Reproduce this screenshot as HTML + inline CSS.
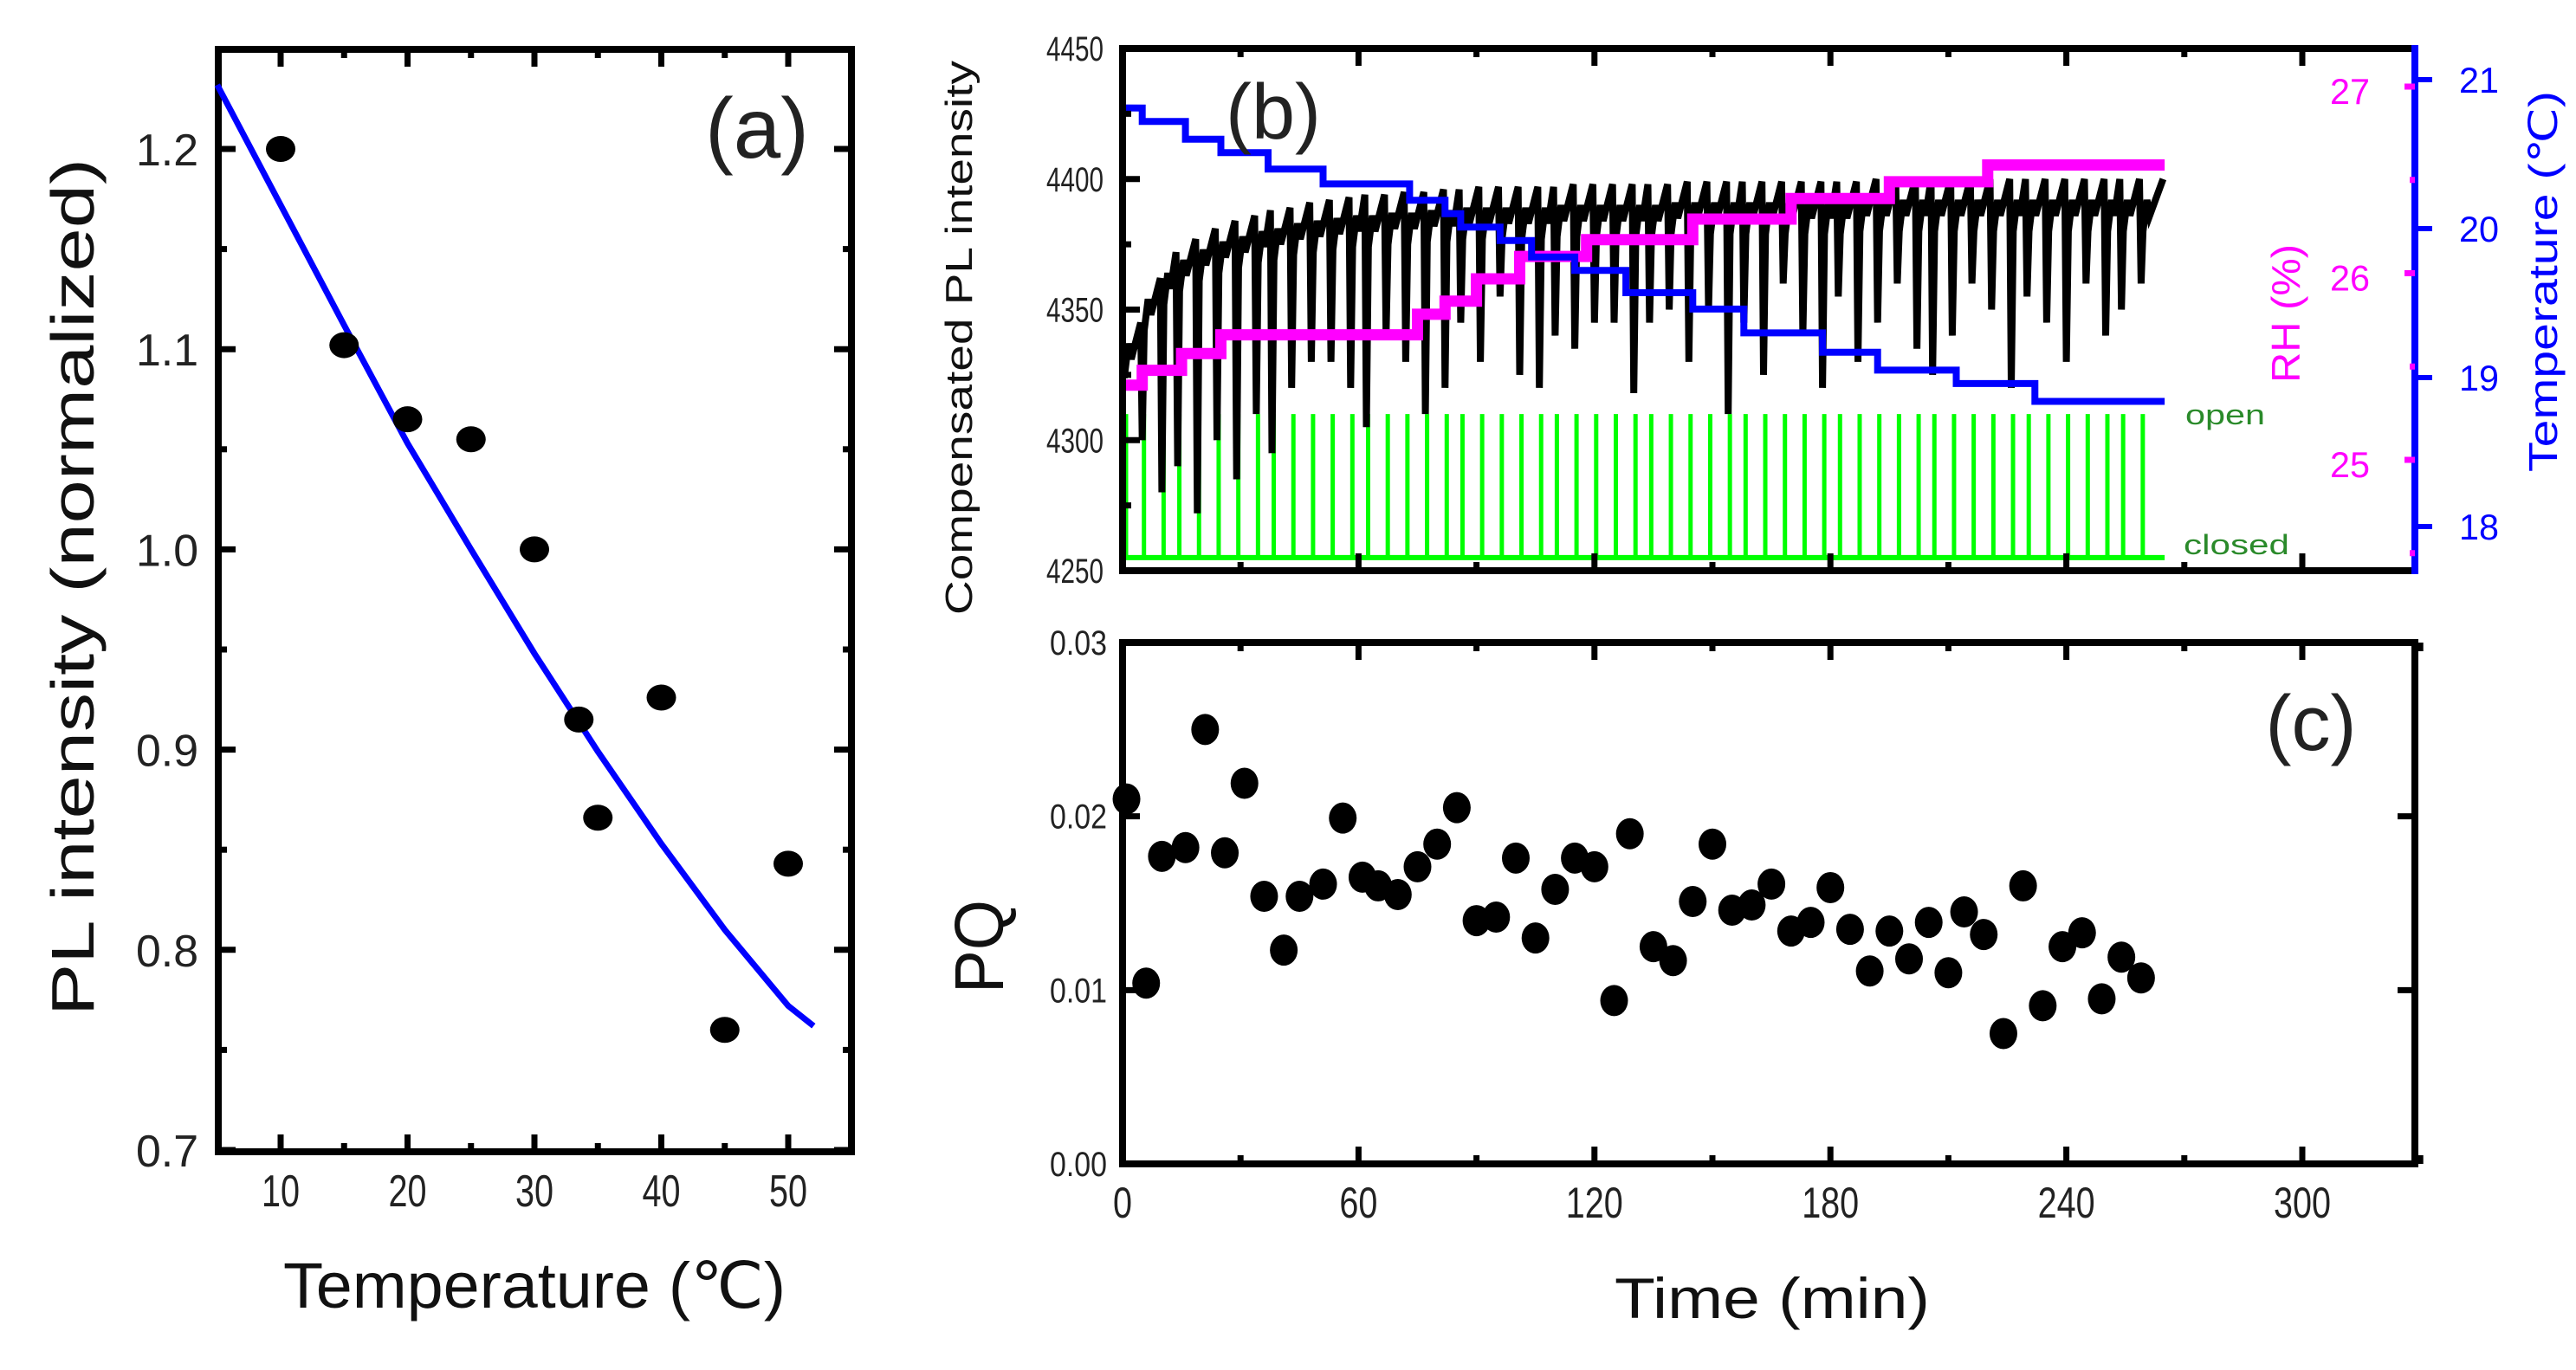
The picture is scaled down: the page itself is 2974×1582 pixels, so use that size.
<!DOCTYPE html>
<html><head><meta charset="utf-8"><style>
html,body{margin:0;padding:0;background:#fff}
svg{display:block}
text{font-family:"Liberation Sans",sans-serif}
</style></head><body>
<svg id="fig" width="2974" height="1582" viewBox="0 0 2974 1582" xmlns="http://www.w3.org/2000/svg">
<g id="pa"></g>
<g id="pb"></g>
<g id="pc"></g>
</svg>
<script>
// ---- Panel (a) data ----
const aTemps = [10,15,20,25,30,33.5,35,40,45,50];
const aPL = [1.2,1.102,1.065,1.055,1.0,0.915,0.866,0.926,0.76,0.843];
const aFitT = [5,10,15,20,25,30,35,40,45,50,52];
const aFitPL = [1.232,1.172,1.112,1.053,1.0,0.948,0.899,0.853,0.810,0.772,0.762];
const aXTicks = [10,20,30,40,50];
const aYTicks = [0.7,0.8,0.9,1.0,1.1,1.2];
// ---- Panel (b) data ----
const bCycleT = [0,5,10,14,19,24,29,34,38,43,48,53,58,62,67,72,77,82,86,91,96,101,106,110,115,120,125,130,134,139,144,149,154,158,163,168,173,178,182,187,192,197,202,206,211,216,221,226,230,235,240,245,250,254,259];
const bTops = [4345,4362,4372,4377,4381,4384,4386,4388,4389,4391,4392,4393,4394,4394,4395,4395,4396,4396,4397,4397,4397,4397,4397,4398,4398,4398,4398,4398,4398,4399,4399,4399,4399,4399,4399,4399,4399,4399,4399,4400,4400,4400,4400,4400,4400,4400,4400,4400,4400,4400,4400,4400,4400,4400,4400];
const bDips = [4325,4300,4280,4290,4272,4300,4285,4310,4295,4320,4330,4330,4320,4305,4340,4330,4310,4320,4345,4330,4355,4325,4320,4340,4335,4345,4345,4318,4345,4350,4330,4350,4310,4345,4325,4360,4340,4320,4355,4330,4345,4360,4335,4325,4340,4360,4350,4320,4355,4345,4330,4360,4340,4350,4360];
const bRHT = [0,5,15,25,75,82,90,101,118,145,170,195,220,265];
const bRH = [25.40,25.48,25.57,25.67,25.78,25.85,25.97,26.09,26.18,26.29,26.40,26.49,26.58,26.58];
const bTempT = [0,5,16,25,37,51,73,82,86,96,104,115,128,145,158,178,192,212,232,265];
const bTemp = [20.81,20.72,20.60,20.51,20.40,20.30,20.19,20.10,20.01,19.92,19.81,19.72,19.57,19.46,19.30,19.17,19.05,18.96,18.84,18.84];
const bYTicks = [4250,4300,4350,4400,4450];
const bRHTicks = [25,26,27];
const bTempTicks = [18,19,20,21];
// ---- Panel (c) data ----
const cT = [1,6,10,16,21,26,31,36,41,45,51,56,61,65,70,75,80,85,90,95,100,105,110,115,120,125,129,135,140,145,150,155,160,165,170,175,180,185,190,195,200,205,210,214,219,224,229,234,239,244,249,254,259];
const cPQ = [0.021,0.0104,0.0177,0.0182,0.025,0.0179,0.0219,0.0154,0.0123,0.0154,0.0161,0.0199,0.0165,0.016,0.0155,0.0171,0.0184,0.0205,0.014,0.0142,0.0176,0.013,0.0158,0.0176,0.0171,0.0094,0.019,0.0125,0.0117,0.0151,0.0184,0.0146,0.0149,0.0161,0.0134,0.0139,0.0159,0.0135,0.0111,0.0134,0.0118,0.0139,0.011,0.0145,0.0132,0.0075,0.016,0.0091,0.0125,0.0133,0.0095,0.0119,0.0107];
const cXTicks = [0,60,120,180,240,300];
const cYTicks = [0.00,0.01,0.02,0.03];
const cYLabels = ["0.00","0.01","0.02","0.03"];

const NS="http://www.w3.org/2000/svg";
function mk(parent,tag,attrs,txt){const e=document.createElementNS(NS,tag);for(const k in attrs)e.setAttribute(k,attrs[k]);if(txt!==undefined)e.textContent=txt;parent.appendChild(e);return e;}

// ================= Panel A =================
const A={l:252,r:983,t:57,b:1330};
const ax=v=>324+(v-10)*14.65;
const ay=v=>172+(1.2-v)*2312;
const pa=document.getElementById('pa');
let e;
for(let v=10;v<=50;v+=5){const len=(v%10===0)?20:10;
 e=mk(pa,'line',{x1:ax(v),x2:ax(v),y1:A.b,y2:A.b-len,stroke:'#000','stroke-width':7});
 
 e=mk(pa,'line',{x1:ax(v),x2:ax(v),y1:A.t,y2:A.t+len,stroke:'#000','stroke-width':7});
 }
for(let i=0;i<=10;i++){const v=0.7+i*0.05;const len=(i%2===0)?20:10;
 e=mk(pa,'line',{x1:A.l,x2:A.l+len,y1:ay(v),y2:ay(v),stroke:'#000','stroke-width':7});
 
 e=mk(pa,'line',{x1:A.r,x2:A.r-len,y1:ay(v),y2:ay(v),stroke:'#000','stroke-width':7});
 }
e=mk(pa,'rect',{x:A.l,y:A.t,width:A.r-A.l,height:A.b-A.t,fill:'none',stroke:'#000','stroke-width':8});

aXTicks.forEach(v=>{e=mk(pa,'text',{x:ax(v),y:1393,'text-anchor':'middle','font-size':52,fill:'#222',textLength:44,lengthAdjust:'spacingAndGlyphs'},String(v));
 });
aYTicks.forEach(v=>{e=mk(pa,'text',{x:229,y:ay(v)+19,'text-anchor':'end','font-size':52,fill:'#222',textLength:72,lengthAdjust:'spacingAndGlyphs'},v.toFixed(1));
 });
e=mk(pa,'text',{x:617,y:1510,'text-anchor':'middle','font-size':74,fill:'#111',textLength:580,lengthAdjust:'spacingAndGlyphs'},'Temperature (℃)');

e=mk(pa,'text',{x:0,y:0,'text-anchor':'middle','font-size':70,fill:'#111',textLength:990,lengthAdjust:'spacingAndGlyphs',transform:'translate(108,678) rotate(-90)'},'PL intensity (normalized)');

e=mk(pa,'text',{x:874,y:182,'text-anchor':'middle','font-size':98,fill:'#222'},'(a)');

let d='';aFitT.forEach((t,i)=>{d+=(i?'L':'M')+ax(t).toFixed(1)+' '+ay(aFitPL[i]).toFixed(1)+' ';});
e=mk(pa,'path',{d:d,fill:'none',stroke:'#0000ff','stroke-width':7});

aTemps.forEach((t,i)=>{e=mk(pa,'ellipse',{cx:ax(t),cy:ay(aPL[i]),rx:17,ry:15,fill:'#000'});
 });

// ================= Panel B =================
const B={l:1296,r:2788,t:56,b:659};
const tx=t=>1296+t*4.54;
const by=v=>B.t+(4450-v)*(B.b-B.t)/200;
const rhy=v=>100+(27-v)*215.5;
const tey=v=>92+(21-v)*172;
const pb=document.getElementById('pb');
d='M'+tx(0)+' '+by(4255)+' L'+tx(265)+' '+by(4255);
e=mk(pb,'path',{d:d,stroke:'#00ff00','stroke-width':6,fill:'none'});

bCycleT.forEach((t,i)=>{e=mk(pb,'line',{x1:tx(t)+2,x2:tx(t)+2,y1:by(4255),y2:by(4310),stroke:'#00ff00','stroke-width':i===0?9:5});
 });
d='';
bCycleT.forEach((t,i)=>{const next=(i<bCycleT.length-1)?bCycleT[i+1]:265;
 d+=(i?'L':'M')+tx(t).toFixed(1)+' '+by(bDips[i]).toFixed(1)+' ';
 d+='L'+tx(t+0.5).toFixed(1)+' '+by(bTops[i]-20).toFixed(1)+' ';
 d+='L'+tx(t+1.5).toFixed(1)+' '+by(bTops[i]-8).toFixed(1)+' ';
 d+='L'+tx(t+2.2).toFixed(1)+' '+by(bTops[i]-14).toFixed(1)+' ';
 d+='L'+tx(next-0.4).toFixed(1)+' '+by(bTops[i]).toFixed(1)+' ';});
e=mk(pb,'path',{d:d,fill:'none',stroke:'#000','stroke-width':8,'stroke-linejoin':'miter'});

d='';bRHT.forEach((t,i)=>{if(i===0)d+='M'+tx(t)+' '+rhy(bRH[i]);else d+=' L'+tx(t).toFixed(1)+' '+rhy(bRH[i-1]).toFixed(1)+' L'+tx(t).toFixed(1)+' '+rhy(bRH[i]).toFixed(1);});
e=mk(pb,'path',{d:d,fill:'none',stroke:'#ff00ff','stroke-width':13});

d='';bTempT.forEach((t,i)=>{if(i===0)d+='M'+tx(t)+' '+tey(bTemp[i]);else d+=' L'+tx(t).toFixed(1)+' '+tey(bTemp[i-1]).toFixed(1)+' L'+tx(t).toFixed(1)+' '+tey(bTemp[i]).toFixed(1);});
e=mk(pb,'path',{d:d,fill:'none',stroke:'#0000ff','stroke-width':8});

for(let t=0;t<=300;t+=30){const len=(t%60===0)?20:10;
 e=mk(pb,'line',{x1:tx(t),x2:tx(t),y1:B.b,y2:B.b-len,stroke:'#000','stroke-width':7});
 
 e=mk(pb,'line',{x1:tx(t),x2:tx(t),y1:B.t,y2:B.t+len,stroke:'#000','stroke-width':7});
 }
for(let v=4250;v<=4450;v+=25){const len=(v%50===0)?20:10;
 e=mk(pb,'line',{x1:B.l,x2:B.l+len,y1:by(v),y2:by(v),stroke:'#000','stroke-width':7});
 }
e=mk(pb,'path',{d:`M${B.r} ${B.t} L${B.l} ${B.t} L${B.l} ${B.b} L${B.r} ${B.b}`,fill:'none',stroke:'#000','stroke-width':8});

e=mk(pb,'line',{x1:B.r,x2:B.r,y1:B.t-4,y2:B.b+4,stroke:'#0000ff','stroke-width':8});

for(let v=24.5;v<=27.5;v+=0.5){const y=rhy(v);if(y<B.t||y>B.b)continue;
 e=mk(pb,'line',{x1:B.r-(v%1===0?12:6),x2:B.r,y1:y,y2:y,stroke:'#ff00ff','stroke-width':7});
 }
bTempTicks.forEach(v=>{e=mk(pb,'line',{x1:B.r,x2:B.r+20,y1:tey(v),y2:tey(v),stroke:'#0000ff','stroke-width':6});
 
 e=mk(pb,'text',{x:2862,y:tey(v)+15,'text-anchor':'middle','font-size':42,fill:'#0000ff',textLength:46,lengthAdjust:'spacingAndGlyphs'},String(v));
 });
bRHTicks.forEach(v=>{e=mk(pb,'text',{x:2713,y:rhy(v)+20,'text-anchor':'middle','font-size':42,fill:'#ff00ff',textLength:46,lengthAdjust:'spacingAndGlyphs'},String(v));
 });
bYTicks.forEach(v=>{e=mk(pb,'text',{x:1274,y:by(v)+14,'text-anchor':'end','font-size':40,fill:'#222',textLength:66,lengthAdjust:'spacingAndGlyphs'},String(v));
 });
e=mk(pb,'text',{x:0,y:0,'text-anchor':'middle','font-size':44,fill:'#111',textLength:640,lengthAdjust:'spacingAndGlyphs',transform:'translate(1122,390) rotate(-90)'},'Compensated PL intensity');

e=mk(pb,'text',{x:0,y:0,'text-anchor':'middle','font-size':46,fill:'#ff00ff',textLength:160,lengthAdjust:'spacingAndGlyphs',transform:'translate(2655,362) rotate(-90)'},'RH (%)');

e=mk(pb,'text',{x:0,y:0,'text-anchor':'middle','font-size':46,fill:'#0000ff',textLength:440,lengthAdjust:'spacingAndGlyphs',transform:'translate(2952,325) rotate(-90)'},'Temperature (℃)');

e=mk(pb,'text',{x:2523,y:490,'font-size':32,fill:'#2a8a2a',textLength:92,lengthAdjust:'spacingAndGlyphs'},'open');

e=mk(pb,'text',{x:2521,y:640,'font-size':32,fill:'#2a8a2a',textLength:122,lengthAdjust:'spacingAndGlyphs'},'closed');

e=mk(pb,'text',{x:1470,y:160,'text-anchor':'middle','font-size':90,fill:'#222'},'(b)');


// ================= Panel C =================
const C={l:1296,r:2788,t:742,b:1344};
const cy=v=>C.b-v*(C.b-C.t)/0.03;
const pc=document.getElementById('pc');
for(let t=0;t<=330;t+=30){const len=(t%60===0)?20:10;
 e=mk(pc,'line',{x1:tx(t),x2:tx(t),y1:C.b,y2:C.b-len,stroke:'#000','stroke-width':7});
 
 e=mk(pc,'line',{x1:tx(t),x2:tx(t),y1:C.t,y2:C.t+len,stroke:'#000','stroke-width':7});
 }
cYTicks.forEach(v=>{
 e=mk(pc,'line',{x1:C.l,x2:C.l+20,y1:cy(v),y2:cy(v),stroke:'#000','stroke-width':7});
 
 e=mk(pc,'line',{x1:C.r,x2:C.r-20,y1:cy(v),y2:cy(v),stroke:'#000','stroke-width':7});
 });
e=mk(pc,'rect',{x:C.l,y:C.t,width:C.r-C.l,height:C.b-C.t,fill:'none',stroke:'#000','stroke-width':8});

cXTicks.forEach(v=>{const s=String(v);e=mk(pc,'text',{x:tx(v),y:1406,'text-anchor':'middle','font-size':50,fill:'#222',textLength:s.length*22,lengthAdjust:'spacingAndGlyphs'},s);
 });
cYTicks.forEach((v,i)=>{e=mk(pc,'text',{x:1278,y:cy(v)+14,'text-anchor':'end','font-size':40,fill:'#222',textLength:66,lengthAdjust:'spacingAndGlyphs'},cYLabels[i]);
 });
e=mk(pc,'text',{x:2046,y:1522,'text-anchor':'middle','font-size':66,fill:'#111',textLength:364,lengthAdjust:'spacingAndGlyphs'},'Time (min)');

e=mk(pc,'text',{x:0,y:0,'text-anchor':'middle','font-size':80,fill:'#111',textLength:108,lengthAdjust:'spacingAndGlyphs',transform:'translate(1158,1093) rotate(-90)'},'PQ');

e=mk(pc,'text',{x:2668,y:866,'text-anchor':'middle','font-size':90,fill:'#222'},'(c)');

cT.forEach((t,i)=>{e=mk(pc,'ellipse',{cx:tx(t),cy:cy(cPQ[i]),rx:16,ry:18,fill:'#000'});
 });
</script>
</body></html>
